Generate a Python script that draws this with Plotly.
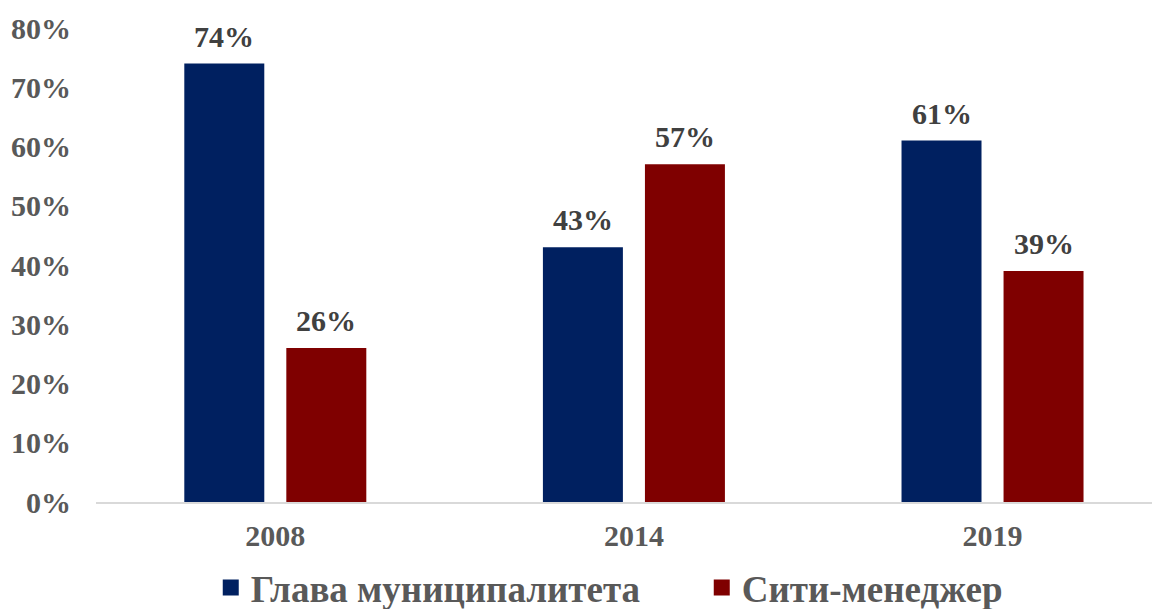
import plotly.graph_objects as go

years = ["2008", "2014", "2019"]
series_names = ["Глава муниципалитета", "Сити-менеджер"]
glava = [74, 43, 61]
siti = [26, 57, 39]
colors = ["#002060", "#7F0000"]
y_ticks = [0, 10, 20, 30, 40, 50, 60, 70, 80]
y_tick_labels = [f"{v}%" for v in y_ticks]

FONT = "Liberation Serif, Times New Roman, serif"

fig = go.Figure()
for name, vals, col in zip(series_names, [glava, siti], colors):
    fig.add_trace(go.Bar(
        x=years, y=vals, name=name, showlegend=False,
        marker=dict(color=col, line=dict(width=0)),
    ))
# legend entries (larger square swatches)
for name, col in zip(series_names, colors):
    fig.add_trace(go.Scatter(
        x=[None], y=[None], mode="markers", name=name,
        marker=dict(symbol="square", size=19, color=col),
    ))

# data labels
for k, vals in enumerate([glava, siti]):
    for i, v in enumerate(vals):
        fig.add_annotation(
            x=i, y=v, text=f"{v}%", showarrow=False,
            xshift=(-51 if k == 0 else 51), yshift=9, yanchor="bottom",
            font=dict(family=FONT, size=30, color="#404040", weight="bold"),
        )

# page body has an 8px default margin; size the figure to fill the rest
fig.update_layout(
    width=1152, height=601,
    margin=dict(l=88, r=0, t=20, b=107, autoexpand=False),
    paper_bgcolor="white", plot_bgcolor="white",
    barmode="group", bargap=0.431, bargroupgap=0.216,
    showlegend=True,
    legend=dict(
        orientation="h", xref="container", yref="container",
        x=0.176, xanchor="left", y=0.035, yanchor="middle",
        font=dict(family=FONT, size=37, color="#595959", weight="bold"),
        entrywidth=446, entrywidthmode="pixels", bgcolor="rgba(0,0,0,0)",
    ),
    xaxis=dict(
        type="category", range=[-0.5, 2.467],
        showline=True, linecolor="#D9D9D9", linewidth=2,
        showgrid=False, ticks="", ticklabelstandoff=6,
        tickfont=dict(family=FONT, size=30, color="#595959", weight="bold"),
    ),
    yaxis=dict(
        range=[0, 80], tickvals=y_ticks, ticktext=y_tick_labels,
        showgrid=False, zeroline=False, showline=False, ticks="",
        ticklabelstandoff=24,
        tickfont=dict(family=FONT, size=30, color="#595959", weight="bold"),
    ),
)

fig.write_html("out.html")
